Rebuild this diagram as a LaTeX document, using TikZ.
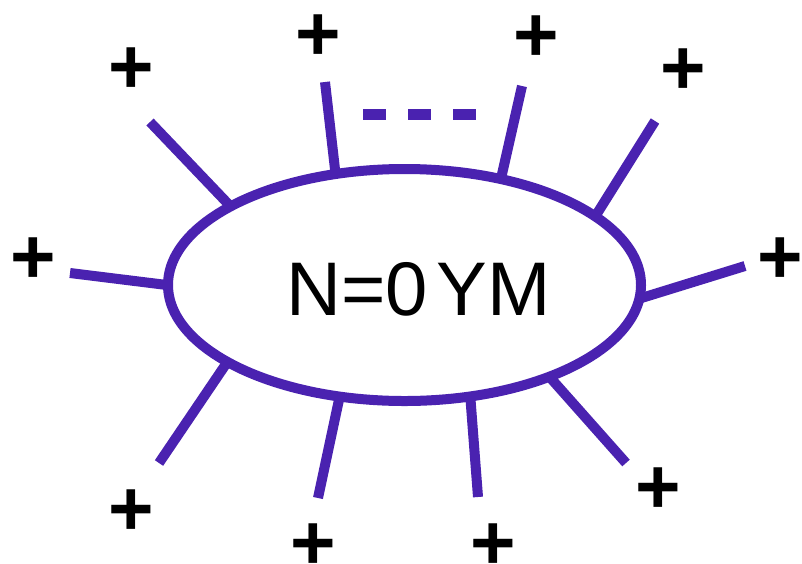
\documentclass[tikz,border=0pt]{standalone}
\usepackage{fontspec}
\setmainfont{Liberation Sans}
\usetikzlibrary{backgrounds,shapes.geometric}
\definecolor{spokecol}{RGB}{74,34,176}
\begin{document}
\begin{tikzpicture}[x=1pt,y=-1pt,
  spoke/.style={draw=spokecol,line width=10pt,line cap=butt},
  blob/.style={ellipse,draw=spokecol,line width=10pt,fill=white,inner sep=0pt,minimum width=473pt,minimum height=232pt},
  plussign/.style={anchor=base,inner sep=0pt,font=\fontsize{78}{78}\selectfont\bfseries,yshift=-28pt},
  dashrow/.style={draw=spokecol,line width=11pt,dash pattern=on 23pt off 22pt}]
\useasboundingbox (0,0) rectangle (802,563);
\node[blob] (E) at (404.5,285) {};
\node[anchor=base,inner sep=0pt,font=\fontsize{76}{76}\selectfont] (T) at (418.5,315) {\spaceskip=9pt N=0 YM};
% outer ends
\coordinate (o1) at (150,122);
\coordinate (o2) at (325,82);
\coordinate (o3) at (70,273);
\coordinate (o4) at (522,86);
\coordinate (o5) at (655,121);
\coordinate (o6) at (745,266);
\coordinate (o7) at (159,463);
\coordinate (o8) at (318,498);
\coordinate (o9) at (478,497);
\coordinate (o10) at (626,463);
% inner ends (hidden under the ellipse)
\coordinate (i1) at (234,210);
\coordinate (i2) at (336,178);
\coordinate (i3) at (175,286);
\coordinate (i4) at (500,183);
\coordinate (i5) at (593,220);
\coordinate (i6) at (635,300);
\coordinate (i7) at (228,361);
\coordinate (i8) at (340,395);
\coordinate (i9) at (470,393);
\coordinate (i10) at (547,374);
\begin{pgfonlayer}{background}
\foreach \k in {1,...,10} {\draw[spoke] (o\k) -- (i\k);}
\end{pgfonlayer}
\coordinate (d1) at (363,114);
\coordinate (d2) at (477,114);
\draw[dashrow] (d1) -- (d2);
\node[plussign] (p1) at (131,65) {+};
\node[plussign] (p2) at (318,32) {+};
\node[plussign] (p3) at (33,255) {+};
\node[plussign] (p4) at (536,33) {+};
\node[plussign] (p5) at (683,66) {+};
\node[plussign] (p6) at (780,255) {+};
\node[plussign] (p7) at (131,507) {+};
\node[plussign] (p8) at (313,541) {+};
\node[plussign] (p9) at (493,541) {+};
\node[plussign] (p10) at (658,485) {+};
\end{tikzpicture}
\end{document}
